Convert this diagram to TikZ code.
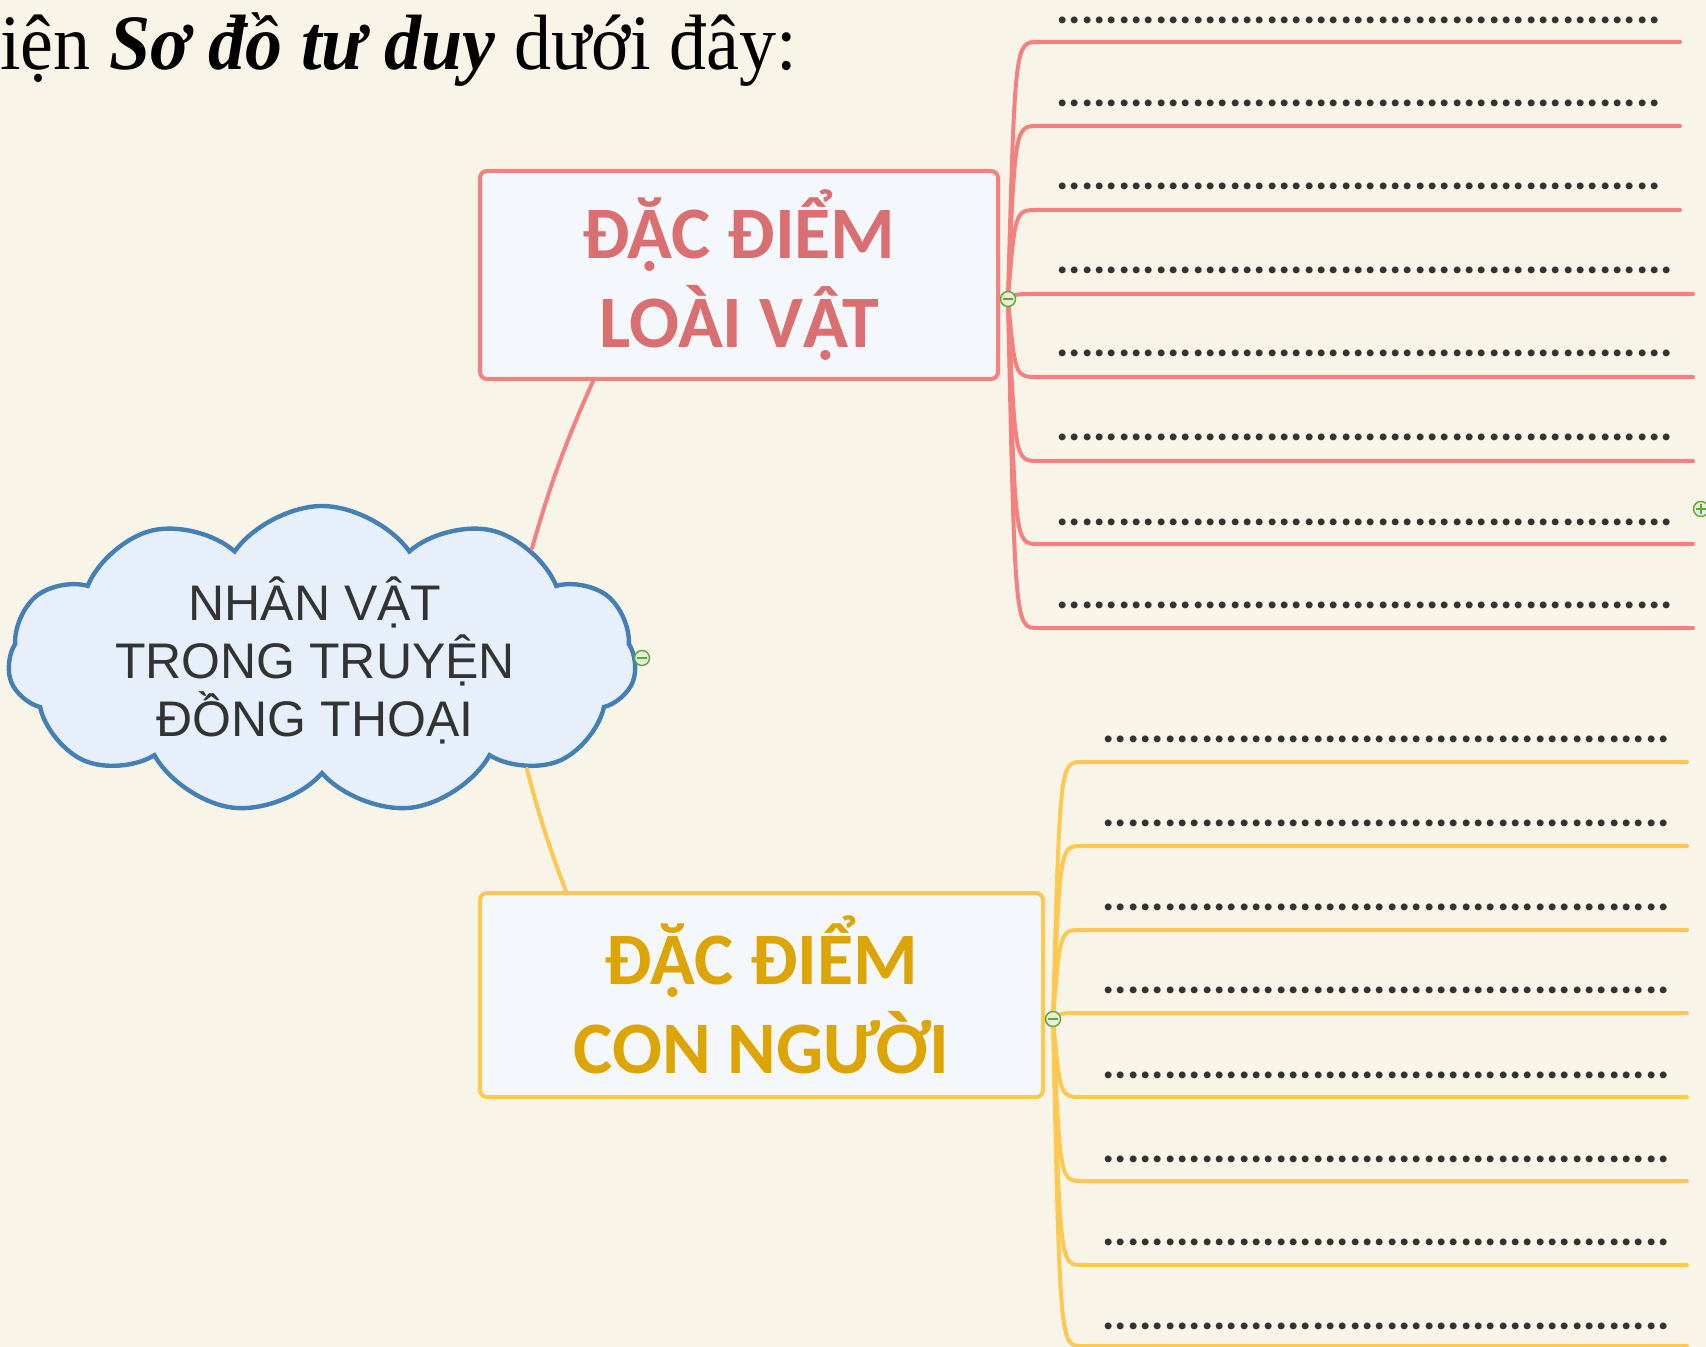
\documentclass[tikz,border=0pt]{standalone}
\usepackage{fontspec}
\setmainfont{Liberation Serif}
\newfontfamily\calibri{Carlito}
\newfontfamily\arial{Liberation Sans}
\usepackage[x11names]{xcolor}
\usepackage{tikz}
\usetikzlibrary{positioning, shapes.symbols}

\definecolor{giay}{HTML}{F8F5E8}
\definecolor{hong}{HTML}{F58080}
\definecolor{chuhong}{HTML}{D96F70}
\definecolor{vang}{HTML}{FFC94F}
\definecolor{chuvang}{HTML}{DDA502}
\definecolor{nenhop}{HTML}{F4F7FC}
\definecolor{nenmay}{HTML}{E7F0FA}
\definecolor{vienmay}{HTML}{4580B5}
\definecolor{xammay}{HTML}{333333}
\definecolor{xanhthu}{HTML}{5DA831}
\definecolor{nenthu}{HTML}{E6EEE0}

\newcommand{\cham}[1]{\foreach \k in {1,...,#1}{.}}

\begin{document}
\begin{tikzpicture}[x=0.5pt, y=-0.5pt,
	chude/.style={draw, line width=2pt, rounded corners=3.5pt, fill=nenhop, align=center, inner sep=0pt,
		font=\calibri\bfseries\fontsize{37}{44.5}\selectfont},
	may/.style={cloud, cloud puffs=11, cloud puff arc=110, aspect=2, draw=vienmay, fill=nenmay, line width=2.2pt, inner sep=0pt},
	chumay/.style={align=center, text=xammay, font=\arial\fontsize{25}{29}\selectfont},
	hangcham/.style={anchor=base west, inner sep=0pt, text=xammay, font=\calibri\bfseries\fontsize{23.1}{28}\selectfont},
	noi/.style={line width=2pt, line cap=round},
	thugon/.style={circle, draw=xanhthu, fill=nenthu, line width=0.7pt, minimum size=7.5pt, inner sep=0pt,
		path picture={\draw[xanhthu, line width=0.8pt] ([xshift=-2.3pt]path picture bounding box.center) -- ([xshift=2.3pt]path picture bounding box.center);}},
	mora/.style={circle, draw=xanhthu, fill=nenthu, line width=0.7pt, minimum size=7.5pt, inner sep=0pt,
		path picture={\draw[xanhthu, line width=0.8pt] ([xshift=-2.3pt]path picture bounding box.center) -- ([xshift=2.3pt]path picture bounding box.center)
			([yshift=-2.3pt]path picture bounding box.center) -- ([yshift=2.3pt]path picture bounding box.center);}}
	]
	\fill[giay] (0,0) rectangle (1706,1347);
	\useasboundingbox (0,0) rectangle (1706,1347);
	%
	\node[anchor=base west, inner sep=0pt, font=\fontsize{37}{44}\selectfont, yscale=1.06] (Td) at (0,70) {iện \textbf{\textit{Sơ đồ tư duy}} dưới đây:};
	%
	\node[may, minimum width=314pt, minimum height=154pt,
		label={[name=NvChu, chumay, xshift=-3.5pt]center:NHÂN VẬT\\TRONG TRUYỆN\\ĐỒNG THOẠI}] (Nv) at (322,660) {};
	\node[chude, draw=hong, text=chuhong, minimum width=259pt, minimum height=104pt] (Lv) at (739,275) {ĐẶC ĐIỂM\\LOÀI V\rlap{Â}ẠT};
	\node[chude, draw=vang, text=chuvang, minimum width=281.5pt, minimum height=102pt] (Cn) at (761.5,995) {ĐẶC ĐIỂM\\CON NGƯỜI};
	%
	\draw[noi, hong] (Nv.28) to[bend left=4] (Lv.216);
	\draw[noi, vang] (Nv.332) to[bend right=3] (Cn.152);
	%
	\coordinate (Pk) at (1008,299);
	\coordinate (Ck) at (1053,1019);
	%
	\node[hangcham] (Ph1) at (1056,24) {\cham{49}};
	\draw[noi, hong] (Pk) .. controls (1015,42) and (1015,42) .. (1038,42) -- (1680,42) coordinate (Pe1);
	%
	\node[hangcham] (Ph2) at (1056,107) {\cham{49}};
	\draw[noi, hong] (Pk) .. controls (1015,126) and (1015,126) .. (1038,126) -- (1680,126) coordinate (Pe2);
	%
	\node[hangcham] (Ph3) at (1056,190) {\cham{49}};
	\draw[noi, hong] (Pk) .. controls (1015,210) and (1015,210) .. (1038,210) -- (1680,210) coordinate (Pe3);
	%
	\node[hangcham] (Ph4) at (1056,274) {\cham{50}};
	\draw[noi, hong] (Pk) .. controls (1015,294) and (1015,294) .. (1038,294) -- (1693,294) coordinate (Pe4);
	%
	\node[hangcham] (Ph5) at (1056,357) {\cham{50}};
	\draw[noi, hong] (Pk) .. controls (1015,377) and (1015,377) .. (1038,377) -- (1693,377) coordinate (Pe5);
	%
	\node[hangcham] (Ph6) at (1056,441) {\cham{50}};
	\draw[noi, hong] (Pk) .. controls (1015,461) and (1015,461) .. (1038,461) -- (1693,461) coordinate (Pe6);
	%
	\node[hangcham] (Ph7) at (1056,525) {\cham{50}};
	\draw[noi, hong] (Pk) .. controls (1015,544) and (1015,544) .. (1038,544) -- (1693,544) coordinate (Pe7);
	%
	\node[hangcham] (Ph8) at (1056,608) {\cham{50}};
	\draw[noi, hong] (Pk) .. controls (1015,628) and (1015,628) .. (1038,628) -- (1693,628) coordinate (Pe8);
	%
	\node[hangcham] (Ch1) at (1102,742) {\cham{46}};
	\draw[noi, vang] (Ck) .. controls (1060,762) and (1060,762) .. (1082,762) -- (1687,762) coordinate (Ce1);
	%
	\node[hangcham] (Ch2) at (1102,826) {\cham{46}};
	\draw[noi, vang] (Ck) .. controls (1060,846) and (1060,846) .. (1082,846) -- (1687,846) coordinate (Ce2);
	%
	\node[hangcham] (Ch3) at (1102,910) {\cham{46}};
	\draw[noi, vang] (Ck) .. controls (1060,930) and (1060,930) .. (1082,930) -- (1687,930) coordinate (Ce3);
	%
	\node[hangcham] (Ch4) at (1102,993) {\cham{46}};
	\draw[noi, vang] (Ck) .. controls (1060,1013) and (1060,1013) .. (1082,1013) -- (1687,1013) coordinate (Ce4);
	%
	\node[hangcham] (Ch5) at (1102,1078) {\cham{46}};
	\draw[noi, vang] (Ck) .. controls (1060,1097) and (1060,1097) .. (1082,1097) -- (1687,1097) coordinate (Ce5);
	%
	\node[hangcham] (Ch6) at (1102,1162) {\cham{46}};
	\draw[noi, vang] (Ck) .. controls (1060,1181) and (1060,1181) .. (1082,1181) -- (1687,1181) coordinate (Ce6);
	%
	\node[hangcham] (Ch7) at (1102,1245) {\cham{46}};
	\draw[noi, vang] (Ck) .. controls (1060,1265) and (1060,1265) .. (1082,1265) -- (1687,1265) coordinate (Ce7);
	%
	\node[hangcham] (Ch8) at (1102,1329) {\cham{46}};
	\draw[noi, vang] (Ck) .. controls (1060,1346) and (1060,1346) .. (1082,1346) -- (1687,1346) coordinate (Ce8);
	%
	\node[thugon] (Nvt) at (642,658) {};
	\node[thugon] (Lvt) at (Pk) {};
	\node[thugon] (Cnt) at (Ck) {};
	\node[mora] (Mr) at (1701,509) {};
\end{tikzpicture}
\end{document}
